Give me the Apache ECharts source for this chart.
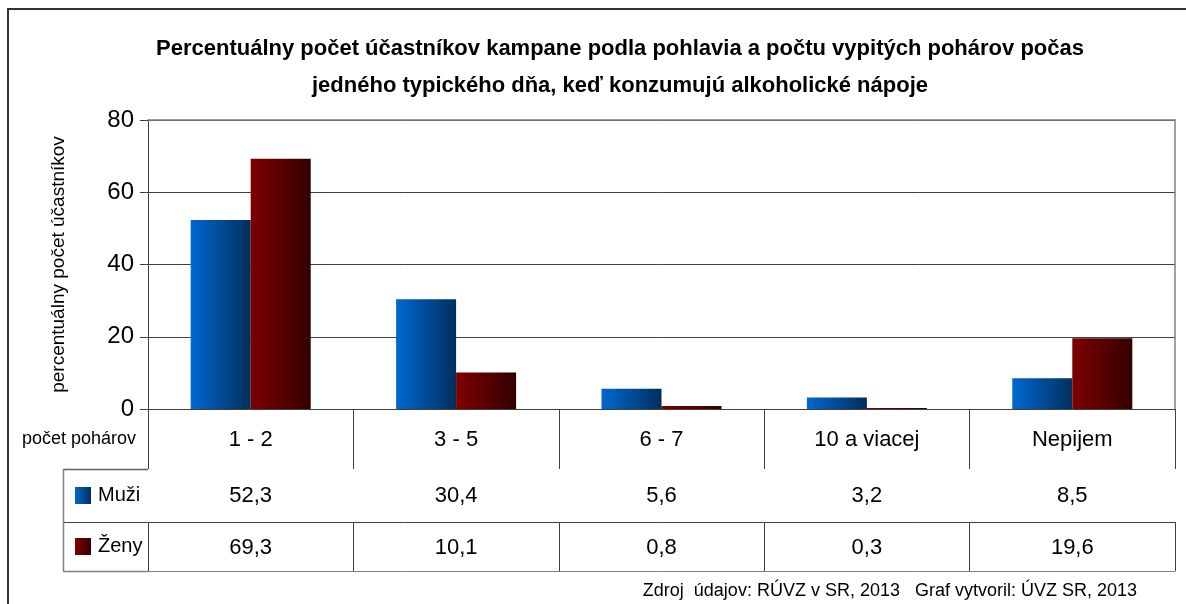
<!DOCTYPE html>
<html>
<head>
<meta charset="utf-8">
<script src="https://cdn.jsdelivr.net/npm/echarts@6/dist/echarts.min.js"></script>
<style>
  html, body { margin: 0; padding: 0; background: #fff; }
  #chart { width: 1186px; height: 604px; }
</style>
</head>
<body>
<div id="chart"></div>
<script>
// data
const categories = ['1 - 2', '3 - 5', '6 - 7', '10 a viacej', 'Nepijem'];
const muzi = [52.3, 30.4, 5.6, 3.2, 8.5];
const zeny = [69.3, 10.1, 0.8, 0.3, 19.6];
const yTicks = [0, 20, 40, 60, 80];

const FONT = "'Liberation Sans Narrow', 'Arial Narrow', 'Liberation Sans', sans-serif";
const fmt = v => String(v).replace('.', ',');

const blue = new echarts.graphic.LinearGradient(0, 0, 1, 0, [
  { offset: 0, color: '#0068d2' },
  { offset: 1, color: '#002f5c' }
]);
const red = new echarts.graphic.LinearGradient(0, 0, 1, 0, [
  { offset: 0, color: '#7e0000' },
  { offset: 1, color: '#340000' }
]);

const chart = echarts.init(document.getElementById('chart'));

// one table row = one extra category axis below the plot
const tableAxis = (offset, tickLen, margin, values, lineColor) => ({
  type: 'category',
  data: categories,
  position: 'bottom',
  offset: offset,
  axisLine: { show: true, lineStyle: { color: lineColor, width: 1 } },
  axisTick: { show: true, length: tickLen, interval: 0, lineStyle: { color: '#404040' } },
  axisLabel: {
    show: values !== null,
    interval: 0,
    margin: margin,
    fontFamily: FONT,
    fontSize: 22,
    color: '#000',
    formatter: (v, i) => values ? fmt(values[i]) : ''
  }
});

const option = {
  animation: false,
  textStyle: { fontFamily: FONT },
  title: [
    {
      text: 'Percentuálny počet účastníkov kampane podla pohlavia a počtu vypitých pohárov počas\njedného typického dňa, keď konzumujú alkoholické nápoje',
      left: 615,
      top: 25,
      textAlign: 'center',
      textStyle: { fontFamily: FONT, fontSize: 22, fontWeight: 'bold', color: '#000', lineHeight: 37 }
    },
    {
      text: 'Zdroj  údajov: RÚVZ v SR, 2013   Graf vytvoril: ÚVZ SR, 2013',
      right: 44,
      top: 577,
      textStyle: { fontFamily: FONT, fontSize: 18, fontWeight: 'normal', color: '#000' }
    }
  ],
  legend: {
    orient: 'vertical',
    left: 70,
    top: 480,
    itemWidth: 16,
    itemHeight: 17,
    itemGap: 30,
    icon: 'rect',
    textStyle: { fontFamily: FONT, fontSize: 20, lineHeight: 21, color: '#000', padding: [0, 0, 0, 2] },
    data: ['Muži', 'Ženy']
  },
  grid: { left: 148, right: 11, top: 120, bottom: 195 },
  xAxis: [
    {
      type: 'category',
      data: categories,
      position: 'bottom',
      axisLine: { show: true, lineStyle: { color: '#000', width: 1 } },
      axisTick: { show: true, length: 60, interval: 0, lineStyle: { color: '#404040' } },
      axisLabel: { interval: 0, margin: 20, fontFamily: FONT, fontSize: 22, color: '#000' }
    },
    tableAxis(60, 53, 16, muzi, '#404040'),
    tableAxis(113, 49, 15, zeny, '#404040'),
    tableAxis(162, 0, 0, null, '#808080'),
    {
      type: 'category',
      data: categories,
      position: 'top',
      axisLine: { show: true, lineStyle: { color: '#808080', width: 1.5 } },
      axisTick: { show: false },
      axisLabel: { show: false }
    }
  ],
  yAxis: [
    {
      type: 'value',
      min: yTicks[0],
      max: yTicks[yTicks.length - 1],
      interval: 20,
      name: 'percentuálny počet účastníkov',
      nameLocation: 'middle',
      nameRotate: 90,
      nameGap: 80,
      nameTextStyle: { fontFamily: FONT, fontSize: 19, color: '#000' },
      axisLine: { show: true, lineStyle: { color: '#404040', width: 1 } },
      axisTick: { show: true, length: 8, lineStyle: { color: '#404040' } },
      axisLabel: { margin: 14, fontFamily: FONT, fontSize: 24, color: '#000' },
      splitLine: { show: true, lineStyle: { color: '#404040', width: 1 } }
    },
    {
      type: 'value',
      position: 'right',
      min: yTicks[0],
      max: yTicks[yTicks.length - 1],
      interval: 20,
      axisLine: { show: true, lineStyle: { color: '#808080', width: 1.5 } },
      axisTick: { show: false },
      axisLabel: { show: false },
      splitLine: { show: false }
    }
  ],
  series: [
    {
      name: 'Muži',
      type: 'bar',
      data: muzi,
      barWidth: 60,
      barGap: '0%',
      itemStyle: { color: blue }
    },
    {
      name: 'Ženy',
      type: 'bar',
      data: zeny,
      barWidth: 60,
      itemStyle: { color: red }
    }
  ],
  graphic: [
    // outer frame
    { type: 'rect', shape: { x: 8, y: 9, width: 1200, height: 620 }, style: { fill: 'none', stroke: '#333', lineWidth: 2 }, silent: true },
    { type: 'text', left: 22, top: 430, style: { text: 'počet pohárov', font: '18px ' + FONT, fill: '#000' } },
    // legend column of the table
    { type: 'line', shape: { x1: 63, y1: 469.5, x2: 148, y2: 469.5 }, style: { stroke: '#606060', lineWidth: 1.5 } },
    { type: 'line', shape: { x1: 63, y1: 522.5, x2: 148, y2: 522.5 }, style: { stroke: '#404040', lineWidth: 1 } },
    { type: 'line', shape: { x1: 63, y1: 571.5, x2: 148, y2: 571.5 }, style: { stroke: '#808080', lineWidth: 1.5 } },
    { type: 'line', shape: { x1: 63.5, y1: 469, x2: 63.5, y2: 572 }, style: { stroke: '#808080', lineWidth: 1.5 } }
  ]
};

chart.setOption(option);
</script>
</body>
</html>
